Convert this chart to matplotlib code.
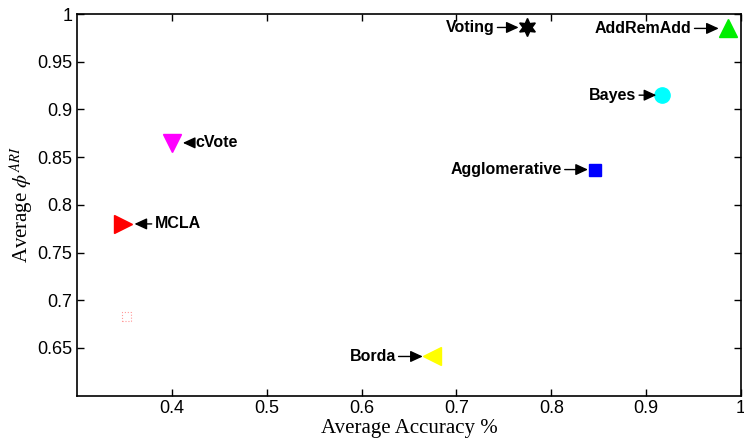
import matplotlib
matplotlib.use("Agg")
import matplotlib.pyplot as plt
from matplotlib.ticker import FormatStrFormatter

# consensus methods: average accuracy vs average phi^ARI
methods = ["Voting", "AddRemAdd", "Bayes", "Agglomerative", "cVote", "MCLA", "Borda"]
accuracy = [0.774, 0.986, 0.917, 0.846, 0.400, 0.349, 0.674]
phi_ari = [0.986, 0.985, 0.915, 0.837, 0.865, 0.780, 0.641]
markers = [(6, 1, 0), "^", "o", "s", "v", ">", "<"]
colors = ["black", "#00ee00", "cyan", "blue", "magenta", "red", "yellow"]
sizes = [13, 13, 11, 8.5, 13, 13, 13]
# label offset (pixels) and gap between arrow tip and marker centre
label_dx = [-32, -36, -26, -33, 24, 31, -36]
arrow_gap = [8, 9, 6, 7, 11, 11, 9]

# faint extra point
extra_x, extra_y = 0.352, 0.683

plt.rcParams["font.family"] = ["Liberation Sans", "DejaVu Sans"]
plt.rcParams["mathtext.fontset"] = "stix"

fig = plt.figure(figsize=(7.44, 4.41), dpi=100)
ax = fig.add_axes([0.1035, 0.103, 0.8925, 0.865])

for x, y, m, c, s in zip(accuracy, phi_ari, markers, colors, sizes):
    ax.plot(x, y, marker=m, color=c, markersize=s, linestyle="none")

ax.scatter([extra_x], [extra_y], marker="s", s=45, facecolors="none",
           edgecolors="#ff9999", linewidths=0.8, linestyle=":")

for name, x, y, dx, gap in zip(methods, accuracy, phi_ari, label_dx, arrow_gap):
    ha = "right" if dx < 0 else "left"
    ax.annotate(name, xy=(x, y), xytext=(dx, 0), textcoords="offset pixels",
                ha=ha, va="center", fontsize=11.5, fontweight="bold",
                arrowprops=dict(arrowstyle="-|>,head_length=0.65,head_width=0.3",
                                color="black", lw=1.0, shrinkA=0,
                                shrinkB=gap * 0.72))

ax.set_xlim(0.3, 1.0)
ax.set_ylim(0.6, 1.0)
ax.set_xticks([0.4, 0.5, 0.6, 0.7, 0.8, 0.9, 1.0])
ax.set_yticks([0.65, 0.7, 0.75, 0.8, 0.85, 0.9, 0.95, 1.0])
ax.xaxis.set_major_formatter(FormatStrFormatter("%g"))
ax.yaxis.set_major_formatter(FormatStrFormatter("%g"))
ax.tick_params(direction="in", length=5, width=1, labelsize=13,
               top=True, right=True)
for sp in ax.spines.values():
    sp.set_linewidth(1.2)

ax.set_xlabel("Average Accuracy %", family="Liberation Serif", fontsize=15,
              labelpad=1)
ax.set_ylabel(r"Average $\phi^{ARI}$", family="Liberation Serif", fontsize=15,
              labelpad=1)

fig.savefig("out.png", dpi=100)
